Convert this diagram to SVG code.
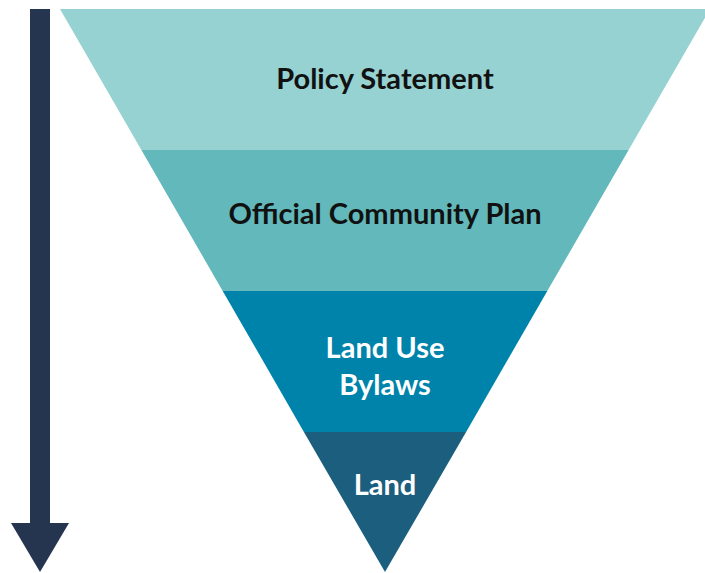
<svg xmlns="http://www.w3.org/2000/svg" width="705" height="573" viewBox="0 0 705 573">
<style>
.lbl{font-family:Lato,"Open Sans","Liberation Sans",sans-serif;font-weight:700;font-size:29px;text-anchor:middle}
.dark{fill:#111111}
.light{fill:#ffffff}
</style>
<rect width="705" height="573" fill="#ffffff"/>
<g id="connectors">
<rect x="30" y="9" width="20" height="516" fill="#253550"/>
<polygon points="11,523 69,523 40,572" fill="#253550"/>
</g>
<g id="policy-statement">
<polygon points="60,9 710,9 628.6,150 141.4,150" fill="#96D2D2"/>
<text class="lbl dark" x="385" y="89">Policy Statement</text>
</g>
<g id="official-community-plan">
<polygon points="141.4,150 628.6,150 547.3,291 222.7,291" fill="#62B8BA"/>
<text class="lbl dark" x="385" y="224">Official Community Plan</text>
</g>
<g id="land-use-bylaws">
<polygon points="222.7,291 547.3,291 466.1,432 303.9,432" fill="#0083AA"/>
<text class="lbl light" x="385" y="358">Land Use</text>
<text class="lbl light" x="385" y="395">Bylaws</text>
</g>
<g id="land">
<polygon points="303.9,432 466.1,432 385,572" fill="#1B5E7E"/>
<text class="lbl light" x="385" y="495">Land</text>
</g>
</svg>
